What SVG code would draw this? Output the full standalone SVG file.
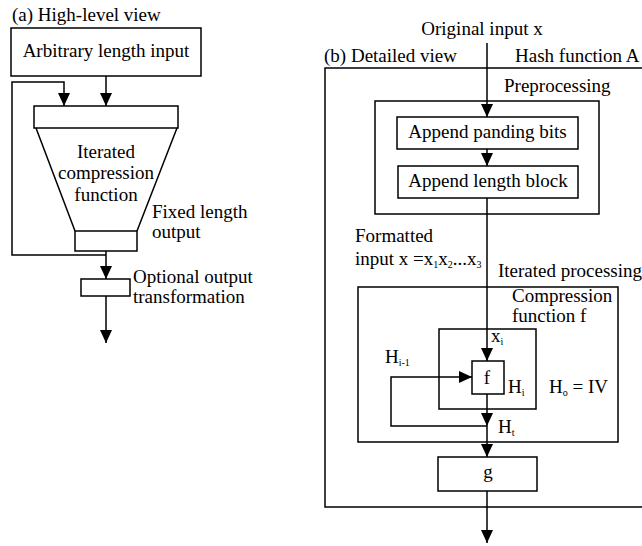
<svg xmlns="http://www.w3.org/2000/svg" width="642" height="546" viewBox="0 0 642 546">
<style>
.s{fill:none;stroke:#000;stroke-width:1.5}
.b{fill:#fff;stroke:#000;stroke-width:1.5}
text{font-family:"Liberation Serif","Times New Roman",serif;font-size:19px;fill:#000}
.c{text-anchor:middle}
.sub{font-size:10px}
</style>
<defs>
<marker id="ah" markerUnits="userSpaceOnUse" markerWidth="13" markerHeight="12" refX="13" refY="6" orient="auto">
<path d="M0,0 L13,6 L0,12 z" fill="#000"/>
</marker>
</defs>
<rect width="642" height="546" fill="#fff"/>

<!-- (a) High-level view -->
<text x="12" y="21">(a) High-level view</text>
<g id="input-box">
<rect class="b" x="11" y="28" width="190" height="48"/>
<text class="c" x="106" y="57">Arbitrary length input</text>
</g>
<g id="compression">
<rect class="b" x="34" y="106" width="144" height="22"/>
<path class="s" d="M36,128 L75,231 M177,128 L137,231"/>
<rect class="b" x="75" y="231" width="62" height="20"/>
<text class="c" x="106" y="158">Iterated</text>
<text class="c" x="106" y="179">compression</text>
<text class="c" x="106" y="201">function</text>
<text x="152" y="218">Fixed length</text>
<text x="152" y="238">output</text>
</g>
<g id="optional">
<rect class="b" x="81" y="279" width="49" height="17"/>
<text x="133" y="283">Optional output</text>
<text x="133" y="303">transformation</text>
</g>

<!-- (b) Detailed view -->
<text class="c" x="482" y="35">Original input x</text>
<text x="324" y="62">(b) Detailed view</text>
<text x="515" y="62">Hash function A</text>
<g id="hash-box">
<path class="s" d="M642,68 H325 V507 H642"/>
</g>
<g id="preprocessing">
<rect class="s" x="375" y="101" width="224" height="113"/>
<text x="504" y="92">Preprocessing</text>
</g>
<g id="padding">
<rect class="b" x="397" y="117" width="181" height="32"/>
<text class="c" x="487.5" y="138">Append panding bits</text>
</g>
<g id="length">
<rect class="b" x="398" y="166" width="180" height="32"/>
<text class="c" x="488" y="187">Append length block</text>
</g>
<g id="formatted">
<text x="355" y="242">Formatted</text>
<text x="355" y="265">input x =x<tspan class="sub" dy="3">1</tspan><tspan dy="-3">x</tspan><tspan class="sub" dy="3">2</tspan><tspan dy="-3">...x</tspan><tspan class="sub" dy="3">3</tspan></text>
</g>
<g id="iterated">
<rect class="s" x="358" y="287" width="260" height="155"/>
<text x="498" y="277">Iterated processing</text>
<text x="549" y="393">H<tspan class="sub" dy="3">o</tspan><tspan dy="-3"> = IV</tspan></text>
</g>
<g id="compfunc">
<rect class="s" x="439" y="329" width="97" height="80"/>
<text x="512" y="302">Compression</text>
<text x="512" y="322">function f</text>
</g>
<g id="f">
<rect class="b" x="472" y="361" width="32" height="33"/>
<text class="c" x="487" y="384">f</text>
<text x="508" y="393">H<tspan class="sub" dy="3">i</tspan></text>
</g>
<g id="g">
<rect class="b" x="438" y="457" width="99" height="34"/>
<text class="c" x="488" y="478">g</text>
</g>
<text x="491" y="342">x<tspan class="sub" dy="3">i</tspan></text>
<text x="385" y="363">H<tspan class="sub" dy="3">i-1</tspan></text>
<text x="498" y="433">H<tspan class="sub" dy="3">t</tspan></text>

<g id="connectors">
<path class="s" d="M106,76 V106" marker-end="url(#ah)"/>
<path class="s" d="M106,255 H12 V82 H64 V106" marker-end="url(#ah)"/>
<path class="s" d="M106,251 V279" marker-end="url(#ah)"/>
<path class="s" d="M106,296 V343" marker-end="url(#ah)"/>
<path class="s" d="M487,43 V117" marker-end="url(#ah)"/>
<path class="s" d="M487,149 V166" marker-end="url(#ah)"/>
<path class="s" d="M487,198 V361" marker-end="url(#ah)"/>
<path class="s" d="M487,394 V426" marker-end="url(#ah)"/>
<path class="s" d="M487,426 H391 V377 H472" marker-end="url(#ah)"/>
<path class="s" d="M487,426 V457" marker-end="url(#ah)"/>
<path class="s" d="M487,491 V543" marker-end="url(#ah)"/>
</g>
</svg>
